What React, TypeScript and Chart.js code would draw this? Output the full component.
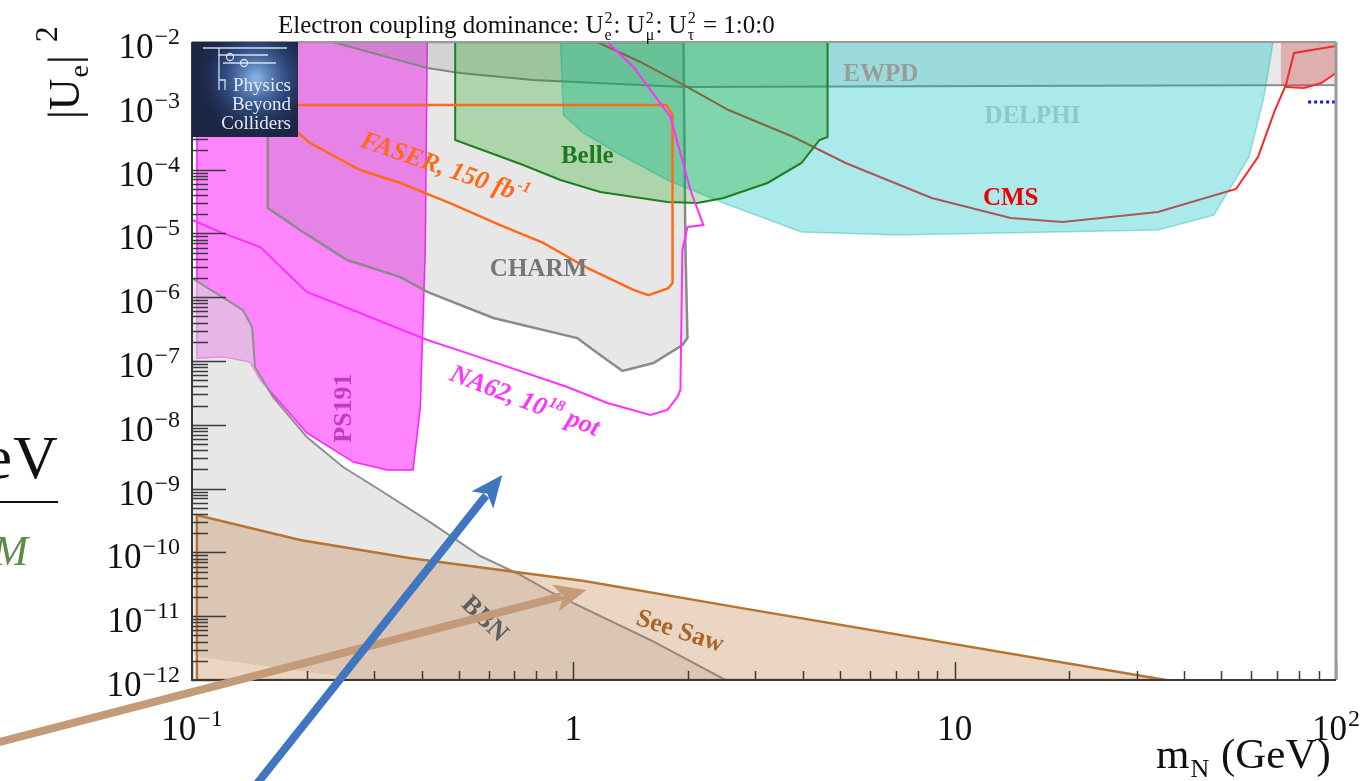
import React, { useEffect, useRef } from 'react';
import { Chart, registerables } from 'chart.js';

Chart.register(...registerables);

const SERIF = "'Liberation Serif', 'Times New Roman', Times, serif";

// ---------- axis ticks ("^" marks the exponent) ----------
const xDecades = [0.1, 1, 10, 100];
const xDecadeLabels = ['10^−1', '1', '10', '10^2'];
const yDecades = [1e-12, 1e-11, 1e-10, 1e-9, 1e-8, 1e-7, 1e-6, 1e-5, 1e-4, 1e-3, 1e-2];
const yDecadeLabels = ['10^−12', '10^−11', '10^−10', '10^−9', '10^−8', '10^−7', '10^−6', '10^−5', '10^−4', '10^−3', '10^−2'];

// ---------- excluded regions / sensitivity curves (m_N [GeV], |U_e|^2) ----------
const ps191X = [0.103, 0.414, 0.409, 0.397, 0.38, 0.325, 0.265, 0.2, 0.151, 0.142, 0.1205, 0.103, 0.103];
const ps191Y = [1e-2, 1e-2, 5.5e-6, 1.9e-8, 1.96e-9, 1.96e-9, 2.61e-9, 7.44e-9, 5.04e-8, 9.64e-8, 1.16e-7, 1.11e-7, 1e-2];

const ewpdX = [0.234, 0.311, 0.414, 0.505, 0.785, 1.944, 13.2, 100, 100, 0.234];
const ewpdY = [1e-2, 6.25e-3, 3.91e-3, 3.26e-3, 2.54e-3, 1.97e-3, 2.04e-3, 2.12e-3, 1e-2, 1e-2];

const charmX = [0.158, 0.158, 0.192, 0.255, 0.352, 0.414, 0.617, 1.024, 1.128, 1.345, 1.622, 1.932, 1.992, 1.968, 1.944, 0.158];
const charmY = [1e-2, 2.5e-5, 1.13e-5, 3.83e-6, 2.07e-6, 1.21e-6, 4.72e-7, 2.29e-7, 1.49e-7, 6.97e-8, 9.3e-8, 1.78e-7, 2.29e-7, 5.5e-6, 1e-2, 1e-2];

const bbnX = [0.1, 0.136, 0.1437, 0.1463, 0.163, 0.2, 0.249, 0.311, 0.421, 0.57, 0.726, 0.871, 1.062, 1.592, 2.506, 0.284, 0.1, 0.1];
const bbnY = [2e-6, 6.29e-7, 3.41e-7, 8.05e-8, 2.73e-8, 6.44e-9, 2.18e-9, 9.51e-10, 2.99e-10, 8.78e-11, 4.43e-11, 2.4e-11, 1.35e-11, 4.24e-12, 1e-12, 1e-12, 2.4e-12, 2e-6];

const seesawX = [0.103, 0.103, 0.192, 0.371, 1.069, 2.742, 35.8, 0.103];
const seesawY = [1e-12, 3.86e-10, 1.56e-10, 8.17e-11, 3.56e-11, 1.35e-11, 1e-12, 1e-12];

const delphiX = [0.925, 0.942, 1.062, 1.304, 1.765, 2.476, 3.966, 7.087, 34.11, 47.83, 59.13, 64.71, 68.35, 0.925];
const delphiY = [1e-2, 7.18e-4, 3.75e-4, 1.82e-4, 6.87e-5, 2.99e-5, 1.05e-5, 9.44e-6, 1.13e-5, 1.94e-5, 1.57e-4, 1.37e-3, 1e-2, 1e-2];

const belleX = [0.49, 0.49, 0.739, 0.925, 1.177, 1.765, 2.115, 2.476, 3.23, 3.966, 4.422, 4.642, 4.642, 0.49];
const belleY = [1e-2, 2.91e-4, 1.18e-4, 6.87e-5, 4.46e-5, 3.1e-5, 2.99e-5, 3.59e-5, 6.17e-5, 1.27e-4, 2.91e-4, 3.24e-4, 1e-2, 1e-2];

const cmsX = [1.156, 1.499, 1.944, 2.553, 3.779, 5.176, 8.704, 14.03, 19.19, 34.11, 54.67, 62.43, 69.18, 73.9, 77.62, 100];
const cmsY = [1e-2, 4.86e-3, 2.12e-3, 8.59e-4, 3.24e-4, 1.27e-4, 3.59e-5, 1.74e-5, 1.51e-5, 2.16e-5, 4.97e-5, 1.57e-4, 8.59e-4, 2.12e-3, 6.73e-3, 8.65e-3];

const cmsHighX = [71.7, 100, 100, 91.42, 82.41, 73.9, 71.7, 71.7];
const cmsHighY = [1e-2, 1e-2, 3.26e-3, 2.28e-3, 1.9e-3, 1.97e-3, 2.04e-3, 1e-2];

const faserX = [0.126, 1.754, 1.82, 1.82, 1.775, 1.574, 1.437, 1.088, 0.834, 0.643, 0.475, 0.352, 0.276, 0.204, 0.19, 0.151, 0.126, 0.126];
const faserY = [1.03e-3, 1.03e-3, 7.18e-4, 1.67e-6, 1.39e-6, 1.08e-6, 1.3e-6, 2.87e-6, 7.08e-6, 1.35e-5, 2.99e-5, 6.17e-5, 9.86e-5, 2.61e-4, 3.75e-4, 7.18e-4, 8.59e-4, 1.03e-3];

const na62X = [0.1, 0.1205, 0.151, 0.2, 0.276, 0.414, 0.527, 0.964, 1.228, 1.592, 1.765, 1.875, 1.909, 1.932, 1.992, 2.193, 2.028, 1.798, 1.437, 1.228];
const na62Y = [1.62e-5, 1.01e-5, 6.12e-6, 1.21e-6, 5.65e-7, 2.13e-7, 1.33e-7, 3.91e-8, 2.2e-8, 1.43e-8, 1.71e-8, 2.73e-8, 3.51e-8, 5.5e-6, 1.26e-5, 1.35e-5, 4.79e-5, 6.68e-4, 4.06e-3, 1e-2];

const dottedX = [84.5, 100];
const dottedY = [1.15e-3, 1.15e-3];

// ---------- text annotations (anchored in data coordinates; ^{..} = superscript) ----------
const chartLabels = [
  { text: 'EWPD', x: 6.4, y: 3.26e-3, angle: 0, color: '#9b9b9b', italic: false, size: 25 },
  { text: 'DELPHI', x: 16.0, y: 7.18e-4, angle: 0, color: '#8ccaca', italic: false, size: 25 },
  { text: 'Belle', x: 1.088, y: 1.69e-4, angle: 0, color: '#1d7a1d', italic: false, size: 25 },
  { text: 'CMS', x: 14.03, y: 3.72e-5, angle: 0, color: '#ee0000', italic: false, size: 25 },
  { text: 'CHARM', x: 0.81, y: 2.87e-6, angle: 0, color: '#767676', italic: false, size: 25 },
  { text: 'FASER, 150 fb^{-1}', x: 0.461, y: 1.1e-4, angle: 19, color: '#ff6a1a', italic: true, size: 26 },
  { text: 'NA62, 10^{18} pot', x: 0.748, y: 2.45e-8, angle: 21, color: '#ff33ff', italic: true, size: 26 },
  { text: 'PS191', x: 0.248, y: 1.83e-8, angle: -90, color: '#c23cc2', italic: false, size: 26 },
  { text: 'BBN', x: 0.588, y: 9.37e-12, angle: 44, color: '#5e5e5e', italic: false, size: 26 },
  { text: 'See Saw', x: 1.909, y: 6.08e-12, angle: 18, color: '#a8662c', italic: false, size: 26 },
];

// arrows: [tailX, tailY, tipX, tipY]
const blueArrow = [0.1437, 1.89e-14, 0.651, 1.63e-9];
const tanArrow = [0.0278, 8.9e-14, 1.082, 2.58e-11];

const pts = (xs: number[], ys: number[]) => xs.map((x, i) => ({ x, y: ys[i] }));

function region(xs: number[], ys: number[], fill: string, stroke: string, width: number, order: number) {
  return {
    data: pts(xs, ys), showLine: true, fill: 'shape', backgroundColor: fill,
    borderColor: stroke, borderWidth: width, pointRadius: 0, pointHoverRadius: 0, order, tension: 0,
  };
}
function curve(xs: number[], ys: number[], color: string, width: number, order: number, dash: number[] = []) {
  return {
    data: pts(xs, ys), showLine: true, fill: false, backgroundColor: 'rgba(0,0,0,0)',
    borderColor: color, borderWidth: width, borderDash: dash, pointRadius: 0, pointHoverRadius: 0, order, tension: 0,
  };
}

function decadeLabel(value: number, decades: number[], labels: string[]) {
  const i = decades.findIndex((d) => Math.abs(Math.log10(value) - Math.log10(d)) < 1e-6);
  return i >= 0 ? labels[i] : '';
}

// base^exp label, aligned 'right' or 'center' at x
function drawPow(ctx: CanvasRenderingContext2D, label: string, x: number, y: number, align: string, bs: number, es: number, edy: number) {
  const [b, e] = label.split('^');
  ctx.font = `${bs}px ${SERIF}`;
  const wb = ctx.measureText(b).width;
  let we = 0;
  if (e) { ctx.font = `${es}px ${SERIF}`; we = ctx.measureText(e).width + 1; }
  const total = wb + we;
  const x0 = align === 'right' ? x - total : x - total / 2;
  ctx.textAlign = 'left';
  ctx.textBaseline = 'alphabetic';
  ctx.font = `${bs}px ${SERIF}`;
  ctx.fillText(b, x0, y);
  if (e) { ctx.font = `${es}px ${SERIF}`; ctx.fillText(e, x0 + wb + 1, y + edy); }
}

type Part = string | { sup?: string; sub?: string; gap?: number; size?: number; supDy?: number; subDy?: number };
function drawRich(ctx: CanvasRenderingContext2D, x: number, y: number, parts: Part[], base: number, script: number, supDy: number, subDy: number) {
  let cx = x;
  ctx.textAlign = 'left';
  ctx.textBaseline = 'alphabetic';
  for (const p of parts) {
    if (typeof p === 'string') {
      ctx.font = `${base}px ${SERIF}`;
      ctx.fillText(p, cx, y);
      cx += ctx.measureText(p).width;
    } else {
      cx += p.gap || 0;
      ctx.font = `${p.size || script}px ${SERIF}`;
      let w = 0;
      if (p.sup) { ctx.fillText(p.sup, cx + 1, y + (p.supDy ?? supDy)); w = Math.max(w, ctx.measureText(p.sup).width); }
      if (p.sub) { ctx.fillText(p.sub, cx + 1, y + (p.subDy ?? subDy)); w = Math.max(w, ctx.measureText(p.sub).width); }
      cx += w + 2;
    }
  }
  return cx;
}

// label text with ^{...} superscripts, centred at origin
function drawLabel(ctx: CanvasRenderingContext2D, text: string, size: number, italic: boolean) {
  const segs: { t: string; sup: boolean }[] = [];
  const re = /\^\{([^}]*)\}/g;
  let last = 0, m: RegExpExecArray | null;
  while ((m = re.exec(text))) {
    if (m.index > last) segs.push({ t: text.slice(last, m.index), sup: false });
    segs.push({ t: m[1], sup: true });
    last = m.index + m[0].length;
  }
  if (last < text.length) segs.push({ t: text.slice(last), sup: false });
  const st = italic ? 'italic bold' : 'bold';
  const font = (sup: boolean) => `${st} ${sup ? Math.round(size * 0.62) : size}px ${SERIF}`;
  let total = 0;
  for (const s of segs) { ctx.font = font(s.sup); total += ctx.measureText(s.t).width + (s.sup ? 1 : 0); }
  let cx = -total / 2;
  ctx.textAlign = 'left';
  ctx.textBaseline = 'alphabetic';
  const baseY = size * 0.33;
  for (const s of segs) {
    ctx.font = font(s.sup);
    ctx.fillText(s.t, cx + (s.sup ? 1 : 0), s.sup ? baseY - size * 0.42 : baseY);
    cx += ctx.measureText(s.t).width + (s.sup ? 1 : 0);
  }
}

function drawArrow(ctx: CanvasRenderingContext2D, x0: number, y0: number, x1: number, y1: number, color: string, width: number, hl: number, hw: number) {
  const ang = Math.atan2(y1 - y0, x1 - x0);
  const c = Math.cos(ang), s = Math.sin(ang);
  const bx = x1 - hl * c, by = y1 - hl * s;
  ctx.strokeStyle = color; ctx.lineWidth = width; ctx.lineCap = 'butt';
  ctx.beginPath(); ctx.moveTo(x0, y0); ctx.lineTo(bx + 6 * c, by + 6 * s); ctx.stroke();
  ctx.fillStyle = color;
  ctx.beginPath();
  ctx.moveTo(x1, y1);
  ctx.lineTo(bx + (hw / 2) * s, by - (hw / 2) * c);
  ctx.lineTo(bx + 0.25 * hl * c, by + 0.25 * hl * s);
  ctx.lineTo(bx - (hw / 2) * s, by + (hw / 2) * c);
  ctx.closePath(); ctx.fill();
}

function drawLogo(ctx: CanvasRenderingContext2D, l: number, t: number) {
  const w = 106, h = 95;
  ctx.save();
  ctx.fillStyle = '#1c2544';
  ctx.fillRect(l, t, w, h);
  const g = ctx.createRadialGradient(l + 64, t + 36, 3, l + 64, t + 36, 62);
  g.addColorStop(0, 'rgba(140,190,240,0.9)');
  g.addColorStop(0.45, 'rgba(70,115,185,0.55)');
  g.addColorStop(1, 'rgba(30,40,80,0)');
  ctx.fillStyle = g;
  ctx.fillRect(l, t, w, h);
  ctx.strokeStyle = 'rgba(225,235,250,0.9)';
  ctx.lineWidth = 1.3;
  ctx.beginPath();
  ctx.moveTo(l + 11, t + 6); ctx.lineTo(l + 95, t + 6);
  ctx.moveTo(l + 26, t + 13); ctx.lineTo(l + 76, t + 13);
  ctx.moveTo(l + 31, t + 21); ctx.lineTo(l + 84, t + 21);
  ctx.moveTo(l + 27, t + 6); ctx.lineTo(l + 27, t + 48);
  ctx.moveTo(l + 27, t + 38); ctx.lineTo(l + 33, t + 38); ctx.lineTo(l + 33, t + 48);
  ctx.stroke();
  ctx.beginPath(); ctx.arc(l + 38, t + 15, 3.5, 0, Math.PI * 2); ctx.stroke();
  ctx.beginPath(); ctx.arc(l + 52, t + 21, 3.5, 0, Math.PI * 2); ctx.stroke();
  ctx.fillStyle = '#e2e8f6';
  ctx.font = `19px ${SERIF}`;
  ctx.textAlign = 'right';
  ctx.textBaseline = 'alphabetic';
  ctx.fillText('Physics', l + 99, t + 49);
  ctx.fillText('Beyond', l + 99, t + 68);
  ctx.fillText('Colliders', l + 99, t + 87);
  ctx.restore();
}

const overlayPlugin = {
  id: 'overlay',
  afterDraw(chart: any) {
    const ctx: CanvasRenderingContext2D = chart.ctx;
    const a = chart.chartArea;
    const xs = chart.scales.x, ys = chart.scales.y;
    ctx.save();

    // inward tick marks
    ctx.strokeStyle = '#3a3a3a';
    ctx.lineWidth = 1.5;
    for (const t of ys.ticks) {
      const v = t.value;
      const e = Math.floor(Math.log10(v) + 1e-6);
      const m = v / Math.pow(10, e);
      if (Math.abs(m - 1.5) < 1e-6) continue;
      const major = Math.abs(m - 1) < 1e-6;
      const py = Math.round(ys.getPixelForValue(v)) + 0.5;
      ctx.beginPath(); ctx.moveTo(a.left, py); ctx.lineTo(a.left + (major ? 34 : 16), py); ctx.stroke();
    }
    for (const t of xs.ticks) {
      const v = t.value;
      const e = Math.floor(Math.log10(v) + 1e-6);
      const m = v / Math.pow(10, e);
      if (Math.abs(m - 1.5) < 1e-6) continue;
      const major = Math.abs(m - 1) < 1e-6;
      const px = Math.round(xs.getPixelForValue(v)) + 0.5;
      ctx.beginPath(); ctx.moveTo(px, a.bottom); ctx.lineTo(px, a.bottom - (major ? 18 : 9)); ctx.stroke();
    }

    // tick labels at the decades
    ctx.fillStyle = '#111';
    for (const t of ys.ticks) {
      const lab = decadeLabel(t.value, yDecades, yDecadeLabels);
      if (!lab) continue;
      const py = ys.getPixelForValue(t.value);
      drawPow(ctx, lab, a.left - 12, py + 16, 'right', 35, 24, -14);
    }
    for (const t of xs.ticks) {
      const lab = decadeLabel(t.value, xDecades, xDecadeLabels);
      if (!lab) continue;
      const px = xs.getPixelForValue(t.value);
      drawPow(ctx, lab, px, a.bottom + 60, 'center', 35, 24, -14);
    }

    // frame
    ctx.strokeStyle = '#9a9a9a';
    ctx.lineWidth = 2;
    ctx.beginPath(); ctx.moveTo(a.left, a.top); ctx.lineTo(a.right, a.top); ctx.stroke();
    ctx.lineWidth = 3;
    ctx.beginPath(); ctx.moveTo(a.right, a.top); ctx.lineTo(a.right, a.bottom); ctx.stroke();
    ctx.strokeStyle = '#3a3a3a';
    ctx.lineWidth = 2;
    ctx.beginPath(); ctx.moveTo(a.left, a.top); ctx.lineTo(a.left, a.bottom); ctx.lineTo(a.right, a.bottom); ctx.stroke();

    // region labels
    for (const L of chartLabels) {
      const px = xs.getPixelForValue(L.x), py = ys.getPixelForValue(L.y);
      ctx.save();
      ctx.translate(px, py);
      ctx.rotate((L.angle * Math.PI) / 180);
      ctx.fillStyle = L.color;
      drawLabel(ctx, L.text, L.size, L.italic);
      ctx.restore();
    }

    drawLogo(ctx, a.left, a.top);

    // title
    ctx.fillStyle = '#111';
    drawRich(ctx, 278, 33, ['Electron coupling dominance: U', { sup: '2', sub: 'e' }, ': U', { sup: '2', sub: 'μ' }, ': U', { sup: '2', sub: 'τ' }, ' = 1:0:0'], 25, 16, -10, 7);

    // y title (rotated)
    ctx.save();
    ctx.translate(79, 119);
    ctx.rotate(-Math.PI / 2);
    drawRich(ctx, 0, 0, ['|U', { sub: 'e' }, '|', { sup: '2', gap: 12, size: 32 }], 44, 28, -22, 9);
    ctx.restore();

    // x title
    drawRich(ctx, 1156, 768, ['m', { sub: 'N' }, ' (GeV)'], 43, 26, -16, 9);

    // fragments of the slide at the left edge
    ctx.fillStyle = '#111';
    ctx.font = `62px ${SERIF}`;
    ctx.textAlign = 'right';
    ctx.textBaseline = 'alphabetic';
    ctx.fillText('e', 12, 478);
    ctx.textAlign = 'left';
    ctx.fillText('V', 13, 478);
    ctx.fillRect(0, 501, 58, 2);
    ctx.fillStyle = '#5f8a4a';
    ctx.font = `italic 42px ${SERIF}`;
    ctx.textAlign = 'right';
    ctx.fillText('M', 28, 565);

    // arrows
    drawArrow(ctx, xs.getPixelForValue(tanArrow[0]), ys.getPixelForValue(tanArrow[1]), xs.getPixelForValue(tanArrow[2]), ys.getPixelForValue(tanArrow[3]), '#c49b78', 8, 32, 28);
    drawArrow(ctx, xs.getPixelForValue(blueArrow[0]), ys.getPixelForValue(blueArrow[1]), xs.getPixelForValue(blueArrow[2]), ys.getPixelForValue(blueArrow[3]), '#4075c0', 8, 32, 28);

    ctx.restore();
  },
};

export default function App() {
  const ref = useRef<HTMLCanvasElement>(null);
  useEffect(() => {
    const canvas = ref.current;
    if (!canvas) return;
    const datasets: any[] = [
      region(ps191X, ps191Y, 'rgba(255,0,255,0.48)', 'rgba(255,0,255,0.85)', 1.5, 20),
      region(ewpdX, ewpdY, 'rgba(110,110,110,0.16)', '#8a8a8a', 2, 19),
      region(charmX, charmY, 'rgba(110,110,110,0.17)', '#8a8a8a', 2.5, 18),
      region(bbnX, bbnY, 'rgba(215,215,215,0.6)', 'rgba(0,0,0,0)', 0, 17),
      curve(bbnX.slice(0, 15), bbnY.slice(0, 15), '#8f8f8f', 2, 16.5),
      region(seesawX, seesawY, 'rgba(190,120,60,0.3)', '#b5742f', 2.5, 16),
      curve(cmsX, cmsY, '#ff2222', 2, 15),
      region(delphiX, delphiY, 'rgba(0,190,190,0.33)', 'rgba(0,170,170,0.35)', 1.5, 14),
      region(belleX, belleY, 'rgba(0,160,0,0.26)', '#1f7f1f', 2, 13),
      region(cmsHighX, cmsHighY, 'rgba(200,70,70,0.35)', 'rgba(0,0,0,0)', 0, 12),
      curve(cmsHighX.slice(2, 6), cmsHighY.slice(2, 6), '#ff2a2a', 2, 11),
      curve(faserX, faserY, '#ff6a1a', 2.5, 10),
      curve(na62X, na62Y, '#ff30ff', 2, 9),
      curve(dottedX, dottedY, '#1010ff', 3, 8, [3, 3]),
    ];
    const chart = new Chart(canvas, {
      type: 'scatter',
      data: { datasets },
      options: {
        responsive: false,
        animation: false,
        devicePixelRatio: 1,
        events: [],
        layout: { padding: { left: 0, top: 42, right: 25, bottom: 0 } },
        plugins: { legend: { display: false }, tooltip: { enabled: false }, title: { display: false } },
        scales: {
          x: {
            type: 'logarithmic', min: 0.1, max: 100, position: 'bottom',
            grid: { display: false, drawTicks: false }, border: { display: false },
            ticks: { display: false, autoSkip: false },
            afterFit: (s: any) => { s.height = 101; s.paddingLeft = 0; s.paddingRight = 0; },
          },
          y: {
            type: 'logarithmic', min: 1e-12, max: 1e-2, position: 'left',
            grid: { display: false, drawTicks: false }, border: { display: false },
            ticks: { display: false, autoSkip: false },
            afterFit: (s: any) => { s.width = 192; s.paddingTop = 0; s.paddingBottom = 0; },
          },
        },
      } as any,
      plugins: [overlayPlugin],
    });
    return () => chart.destroy();
  }, []);
  return (
    <div style={{ position: 'fixed', left: 0, top: 0, width: 1361, height: 781, background: '#fff' }}>
      <canvas ref={ref} width={1361} height={781} style={{ display: 'block', width: 1361, height: 781 }} />
    </div>
  );
}
